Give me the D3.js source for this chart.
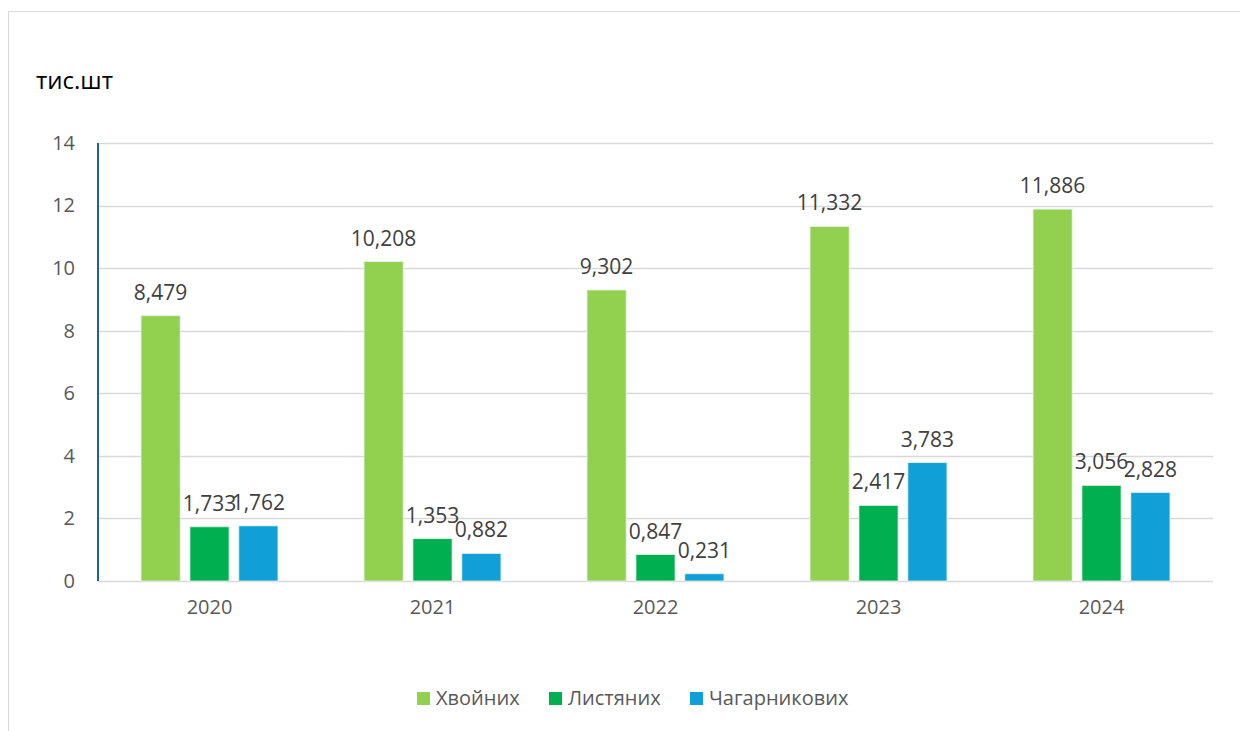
<!DOCTYPE html>
<html><head><meta charset="utf-8">
<script src="https://cdn.jsdelivr.net/npm/d3@7"></script>
<style>
html,body{margin:0;padding:0;background:#fff;}
svg{display:block;font-family:"Open Sans","Noto Sans",sans-serif;}
</style></head>
<body>
<svg id="chart" width="1240" height="731"></svg>
<script>
const years = ["2020","2021","2022","2023","2024"];
const seriesNames = ["Хвойних","Листяних","Чагарникових"];
const conifer = [8.479,10.208,9.302,11.332,11.886];
const deciduous = [1.733,1.353,0.847,2.417,3.056];
const shrubs = [1.762,0.882,0.231,3.783,2.828];
const colors = ["#92d050","#00b050","#119fd7"];
const yTicks = [0,2,4,6,8,10,12,14];
const unitLabel = "тис.шт";

const seriesValues = [conifer, deciduous, shrubs];
const svg = d3.select("#chart");

// chart border
svg.append("rect").attr("x",8.5).attr("y",11.5).attr("width",1240).attr("height",740)
  .attr("fill","none").attr("stroke","#d9d9d9").attr("stroke-width",1);

const pLeft=98, pRight=1213, pTop=143, pBottom=581;
const y = d3.scaleLinear().domain([0,14]).range([pBottom,pTop]);
const x0 = d3.scaleBand().domain(years).range([pLeft,pRight]).paddingInner(0.386).paddingOuter(0.193);
const x1 = d3.scaleBand().domain(seriesNames).range([0,x0.bandwidth()]).paddingInner(0.2);

// gridlines
svg.append("g").selectAll("line").data(yTicks).join("line")
  .attr("x1",pLeft).attr("x2",pRight)
  .attr("y1",d=>Math.round(y(d))+0.5).attr("y2",d=>Math.round(y(d))+0.5)
  .attr("stroke","#d9d9d9").attr("stroke-width",1.5);

// y axis labels
const yAxis = d3.axisLeft(y).tickValues(yTicks).tickSize(0).tickPadding(23).tickFormat(d3.format("d"));
const ga = svg.append("g").attr("transform",`translate(${pLeft},0)`).call(yAxis);
ga.select(".domain").remove();
ga.selectAll("text").attr("fill","#595959").style("font-size","20px").style("font-family","'Open Sans',sans-serif");

// x axis labels
const xAxis = d3.axisBottom(x0).tickSize(0).tickPadding(19);
const gx = svg.append("g").attr("transform",`translate(0,${pBottom})`).call(xAxis);
gx.select(".domain").remove();
gx.selectAll("text").attr("fill","#595959").style("font-size","20px").style("font-family","'Open Sans',sans-serif");

// bars
const data = [];
years.forEach((yr,i)=>seriesNames.forEach((s,j)=>data.push({yr,s,j,v:seriesValues[j][i]})));
const g = svg.append("g");
g.selectAll("rect").data(data).join("rect")
  .attr("x",d=>x0(d.yr)+x1(d.s))
  .attr("width",x1.bandwidth())
  .attr("y",d=>y(d.v))
  .attr("height",d=>y(0)-y(d.v))
  .attr("fill",d=>colors[d.j])
  .attr("stroke","#e6f2e6").attr("stroke-width",0.8);

// left axis line
svg.append("line").attr("x1",pLeft).attr("x2",pLeft).attr("y1",pTop).attr("y2",pBottom)
  .attr("stroke","#1f6391").attr("stroke-width",2);

// value labels
g.selectAll("text").data(data).join("text")
  .attr("x",d=>x0(d.yr)+x1(d.s)+x1.bandwidth()/2)
  .attr("y",d=>y(d.v)-16)
  .attr("text-anchor","middle")
  .attr("fill","#404040")
  .style("font-size","21px")
  .text(d=>d3.format(".3f")(d.v).replace(".",","));

// unit label
svg.append("text").attr("x",36).attr("y",89).attr("fill","#000").style("font-size","24px").text(unitLabel);

// legend
const legendX = [417,549,690];
const lg = svg.append("g");
seriesNames.forEach((s,i)=>{
  lg.append("rect").attr("x",legendX[i]).attr("y",692).attr("width",13).attr("height",13).attr("fill",colors[i]);
  lg.append("text").attr("x",legendX[i]+19).attr("y",705).attr("fill","#595959").style("font-size","20px").text(s);
});
</script>
</body></html>
